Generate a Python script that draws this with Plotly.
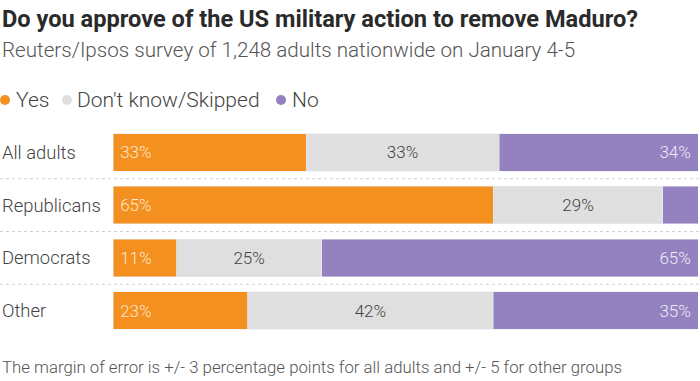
import plotly.graph_objects as go

categories = ["All adults", "Republicans", "Democrats", "Other"]
yes = [33, 65, 11, 23]
dont_know = [33, 29, 25, 42]
no = [34, 6, 65, 35]
no_labels = ["34%", "", "65%", "35%"]
legend_names = ["Yes", "Don't know/Skipped", "No"]

C_YES = "#F4901F"
C_DK = "#DFDFDF"
C_NO = "#9381C0"
FONT = "Roboto"
NB = "\u00a0"
LW = 300

W, H = 700, 381
T, B = 126, 44
plot_h = H - T - B


def py(p):
    return (H - B - p) / plot_h


def px(p):
    return p / W


fig = go.Figure()
fig.add_bar(y=categories, x=yes, orientation="h", marker_color=C_YES,
            text=[f"{NB}{v}%" for v in yes], textposition="inside",
            insidetextanchor="start", textangle=0, constraintext="none",
            insidetextfont=dict(color="#FCE6CC", size=17, family=FONT, weight=LW),
            showlegend=False, name="Yes")
fig.add_bar(y=categories, x=dont_know, orientation="h", marker_color=C_DK,
            text=[f"{v}%" for v in dont_know], textposition="inside",
            insidetextanchor="middle", textangle=0, constraintext="none",
            insidetextfont=dict(color="#444444", size=17, family=FONT, weight=LW),
            showlegend=False, name="Don't know/Skipped")
fig.add_bar(y=categories, x=no, orientation="h", marker_color=C_NO,
            text=[f"{t}{NB}" if t else "" for t in no_labels], textposition="inside",
            insidetextanchor="end", textangle=0, constraintext="none",
            insidetextfont=dict(color="#EEEAF7", size=17, family=FONT, weight=LW),
            showlegend=False, name="No")

annotations = [
    dict(text="<b>Do you approve of the US military action to remove Maduro?</b>",
         x=0, y=py(19), xref="paper", yref="paper", xanchor="left", yanchor="middle",
         showarrow=False, font=dict(size=23.6, color="#2A2A2A", family=FONT)),
    dict(text="Reuters/Ipsos survey of 1,248 adults nationwide on January 4-5",
         x=0, y=py(50), xref="paper", yref="paper", xanchor="left", yanchor="middle",
         showarrow=False, font=dict(size=20.6, color="#555555", family=FONT, weight=LW)),
    dict(text="The margin of error is +/- 3 percentage points for all adults and +/- 5 for other groups",
         x=0, y=py(367), xref="paper", yref="paper", xanchor="left", yanchor="middle",
         showarrow=False, font=dict(size=16.8, color="#555555", family=FONT, weight=LW)),
]
for c in categories:
    annotations.append(dict(text=c, x=0, y=c, xref="paper", yref="y",
                            xanchor="left", yanchor="middle", showarrow=False,
                            font=dict(size=18.4, color="#444444", family=FONT, weight=LW)))

shapes = []
for i in range(len(categories) - 1):
    shapes.append(dict(type="line", xref="paper", yref="y", x0=0, x1=1,
                       y0=i + 0.5, y1=i + 0.5,
                       line=dict(color="#D2D2D2", width=1, dash="dot")))

# custom legend (dots + labels)
legend_dot_x = [5, 67, 281]
legend_text_x = [14, 75, 290]
for name, col, dx, tx in zip(legend_names, [C_YES, C_DK, C_NO], legend_dot_x, legend_text_x):
    shapes.append(dict(type="circle", xref="paper", yref="paper",
                       xsizemode="pixel", ysizemode="pixel",
                       xanchor=px(dx), yanchor=py(100),
                       x0=-5, x1=5, y0=-5, y1=5,
                       fillcolor=col, line=dict(width=0)))
    annotations.append(dict(text=name, x=px(tx), y=py(100), xref="paper", yref="paper",
                            xanchor="left", yanchor="middle", showarrow=False,
                            font=dict(size=21, color="#444444", family=FONT, weight=LW)))

fig.update_layout(
    width=W, height=H, barmode="stack", barnorm="percent", bargap=0.29,
    margin=dict(l=0, r=0, t=T, b=B),
    paper_bgcolor="white", plot_bgcolor="white",
    font=dict(family=FONT, color="#444444"),
    xaxis=dict(domain=[113 / W, 698 / W], range=[0, 100], visible=False, fixedrange=True),
    yaxis=dict(autorange="reversed", visible=False, fixedrange=True),
    showlegend=False,
    annotations=annotations, shapes=shapes,
)

fig.write_html("out.html", config={"displayModeBar": False},
               post_script="document.body.style.margin='0';")
